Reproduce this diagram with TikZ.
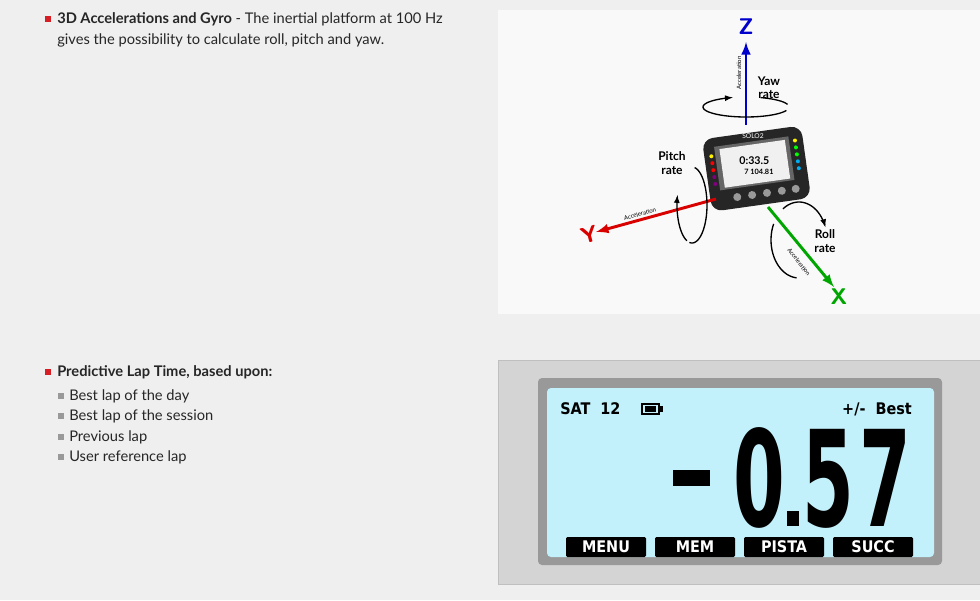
\documentclass[tikz,border=0pt]{standalone}
\usepackage{fontspec}
\setmainfont{Lato}
\usepackage{xcolor}
\usetikzlibrary{arrows}
\newfontfamily\lcdfont{DejaVu Sans Condensed}
\definecolor{pagegray}{HTML}{EFEFEF}
\definecolor{lcdblue}{HTML}{C2F1FB}
\definecolor{bulletred}{HTML}{D81E25}
\tikzset{
  txt/.style={anchor=west,inner sep=0pt,font=\fontsize{11}{13}\selectfont,text=black!85},
  sub/.style={txt},
  rbul/.style={fill=bulletred},
  gbul/.style={fill=gray!80},
  tab/.style={fill=black,rounded corners=1pt},
  tabtxt/.style={text=white,font=\lcdfont\bfseries\fontsize{12}{12}\selectfont,inner sep=0pt},
  digit/.style={font=\lcdfont\bfseries\fontsize{100}{100}\selectfont,inner sep=0pt,anchor=base,xscale=0.62},
  axis/.style={line width=2.2pt,-latex},
  rot/.style={line width=1pt,black},
  rate/.style={font=\bfseries\fontsize{9}{10}\selectfont,align=center},
  acc/.style={font=\fontsize{4.5}{5}\selectfont,inner sep=0pt},
  small/.style={font=\fontsize{5}{5}\selectfont,inner sep=0pt}
}
\begin{document}
\begin{tikzpicture}[x=0.75pt,y=-0.75pt]
\useasboundingbox (0,0) rectangle (980,600);
\fill[pagegray] (0,0) rectangle (980,600);

% left text
\fill[rbul] (45,16) rectangle (51,22);
\node[txt] (gyro) at (57,19) {\textbf{3D Accelerations and Gyro} - The inertial platform at 100 Hz};
\node[txt] (gyro2) at (57,40) {gives the possibility to calculate roll, pitch and yaw.};
\fill[rbul] (45,369) rectangle (51,375);
\node[txt] (lap) at (57,372) {\textbf{Predictive Lap Time, based upon:}};
\foreach \y/\t in {396/Best lap of the day,416/Best lap of the session,437/Previous lap,457/User reference lap}{
  \fill[gbul] (58,\y-3) rectangle (64,\y+3);
  \node[sub] at (69,\y) {\t};
}

% gyro panel
\fill[white!60!pagegray] (498,10) rectangle (980,314);
% device body
\begin{scope}[rotate around={8:(757,165)}]
  \fill[black!85,rounded corners=8pt] (706,132) rectangle (806,205);
  \fill[black!60] (717,141) rectangle (792,185);
  \fill[white!88!gray] (722,144) rectangle (788,183);
  \node[small] (spd) at (755,160) {\fontsize{8}{8}\selectfont\textbf{0:33.5}};
  \node[small] at (758,172) {\fontsize{5.5}{6}\selectfont\textbf{7 104.81}};
  \foreach \y/\c in {150/yellow,157/red,164/red,171/violet,178/violet}{
    \fill[\c] (713,\y) circle (2);}
  \foreach \y/\c in {146/yellow,153/green,160/green,167/cyan,174/cyan}{
    \fill[\c] (798,\y) circle (2);}
  \foreach \x in {733,748,763,778,792}{
    \fill[black!40] (\x,194) circle (4);}
  \node[small,text=white!70] at (757,136) {SOLO2};
\end{scope}

% axes
\coordinate (zfoot) at (746,125);
\coordinate (ztip) at (746,42);
\draw[axis,blue!80!black] (zfoot) -- (ztip);
\node[text=blue!80!black,font=\sffamily\bfseries\fontsize{17}{17}\selectfont] (zlab) at (746,27) {Z};
\node[acc,rotate=90] (zacc) at (739,73) {Acceleration};
\coordinate (yfoot) at (716,199);
\coordinate (ytip) at (596,232);
\draw[axis,red!85!black] (yfoot) -- (ytip);
\node[text=red!85!black,font=\sffamily\bfseries\fontsize{17}{17}\selectfont,rotate=15] (ylab) at (589,235) {Y};
\node[acc,rotate=15] (yacc) at (640,214) {Acceleration};
\coordinate (xfoot) at (768,207);
\coordinate (xtip) at (834,287);
\draw[axis,green!65!black] (xfoot) -- (xtip);
\node[text=green!65!black,font=\sffamily\bfseries\fontsize{17}{17}\selectfont] (xlab) at (839,297) {X};
\node[acc,rotate=-52] (xacc) at (799,262) {Acceleration};

% rotation arrows
\draw[rot,-latex] plot[domain=20:252,samples=40,smooth] ({746+43*cos(\x)},{107+10*sin(\x)});
\draw[rot] plot[domain=290:345,samples=15,smooth] ({746+43*cos(\x)},{107+10*sin(\x)});
\node[rate] (yaw) at (769,88) {Yaw\\rate};
\draw[rot] plot[domain=-80:100,samples=40,smooth] ({692+15*cos(\x)},{205+38*sin(\x)});
\draw[rot,-latex] plot[domain=110:195,samples=20,smooth] ({692+15*cos(\x)},{205+38*sin(\x)});
\node[rate] (pitch) at (672,163) {Pitch\\rate};
\draw[rot,-latex] plot[domain=235:340,samples=30,smooth] ({799+28*cos(\x)},{240+38*sin(\x)});
\draw[rot] plot[domain=95:205,samples=30,smooth] ({799+28*cos(\x)},{240+38*sin(\x)});
\node[rate] (roll) at (825,241) {Roll\\rate};

% lcd panel
\fill[black!17] (498,360) rectangle (980,584);
\draw[black!25] (498,360) rectangle (980,584);
\fill[black!40,rounded corners=3pt] (538,378) rectangle (942,565);
\fill[lcdblue,rounded corners=3pt] (547,388) rectangle (934,557);
\node[font=\lcdfont\bfseries\fontsize{12}{12}\selectfont,anchor=west,inner sep=0pt] (sat) at (560,409) {SAT~~12};
\draw[line width=1.5pt] (642,404) rectangle (659,414);
\fill (645,406) rectangle (656,412);
\fill (660,406) rectangle (663,412);
\node[font=\lcdfont\bfseries\fontsize{12}{12}\selectfont,anchor=east,inner sep=0pt] (best) at (912,409) {+/-~~Best};
\fill (673,470) rectangle (710,486);
\node[digit] (d0) at (759,526) {0};
\fill (787,511) rectangle (799,526);
\node[digit] (d5) at (828,526) {5};
\node[digit] (d7) at (885,526) {7};
\foreach \x/\t in {566/MENU,655/MEM,744/PISTA,833/SUCC}{
  \fill[tab] (\x,537) rectangle (\x+80,557);
  \node[tabtxt] at (\x+40,547) {\t};
}
\end{tikzpicture}
\end{document}
